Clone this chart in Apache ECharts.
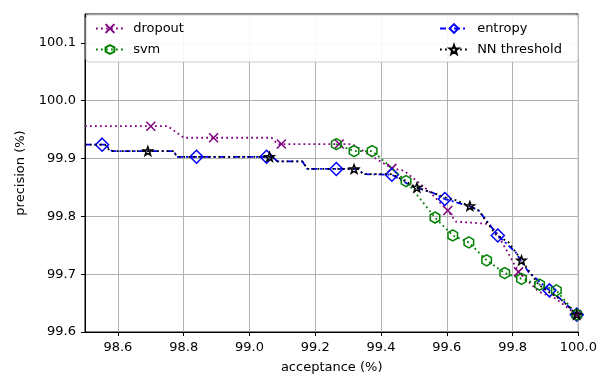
<!DOCTYPE html>
<html>
	<head>
		<meta charset="utf-8">
		<title></title>
		<script src="https://cdn.jsdelivr.net/npm/echarts@6/dist/echarts.min.js"></script>
	</head>
	<body style="margin:0;">
		<div id="main" style="width:600px;height:379px;"></div>
		<script type="text/javascript">
			// tick labels
			var xTicks = [98.6, 98.8, 99.0, 99.2, 99.4, 99.6, 99.8, 100.0];
			var yTicks = [99.6, 99.7, 99.8, 99.9, 100.0, 100.1];

			// dropout
			var dropoutX = [98.5, 98.70, 98.752, 98.80, 98.891, 99.067, 99.085, 99.097, 99.273, 99.312, 99.433, 99.470, 99.545, 99.603, 99.627, 99.727, 99.748, 99.788, 99.818, 99.879, 99.930, 99.995];
			var dropoutY = [99.956, 99.956, 99.956, 99.936, 99.936, 99.936, 99.925, 99.925, 99.925, 99.925, 99.883, 99.879, 99.844, 99.810, 99.791, 99.787, 99.775, 99.735, 99.704, 99.670, 99.658, 99.630];
			var dropoutMark = [1, 4, 7, 8, 10, 13, 18, 21];

			// svm
			var svmX = [99.264, 99.318, 99.373, 99.394, 99.476, 99.564, 99.618, 99.667, 99.721, 99.776, 99.827, 99.882, 99.933, 99.995];
			var svmY = [99.925, 99.913, 99.913, 99.903, 99.861, 99.798, 99.767, 99.755, 99.724, 99.702, 99.692, 99.682, 99.672, 99.630];
			var svmMark = [0, 1, 2, 4, 5, 6, 7, 8, 9, 10, 11, 12, 13];

			// entropy
			var entropyX = [98.5, 98.552, 98.561, 98.582, 98.770, 98.779, 98.839, 99.052, 99.070, 99.085, 99.161, 99.176, 99.264, 99.333, 99.345, 99.433, 99.494, 99.561, 99.594, 99.667, 99.697, 99.755, 99.809, 99.848, 99.912, 99.955, 99.995];
			var entropyY = [99.924, 99.924, 99.924, 99.913, 99.913, 99.903, 99.903, 99.903, 99.903, 99.895, 99.895, 99.882, 99.882, 99.882, 99.873, 99.872, 99.852, 99.840, 99.830, 99.818, 99.810, 99.767, 99.738, 99.704, 99.672, 99.653, 99.630];
			var entropyMark = [1, 6, 7, 12, 15, 18, 21, 24, 26];

			// NN threshold
			var nnX = [98.5, 98.561, 98.576, 98.691, 98.770, 98.779, 99.061, 99.070, 99.085, 99.161, 99.176, 99.318, 99.333, 99.345, 99.433, 99.509, 99.561, 99.594, 99.627, 99.670, 99.697, 99.748, 99.788, 99.827, 99.879, 99.918, 99.948, 99.995];
			var nnY = [99.924, 99.924, 99.913, 99.913, 99.913, 99.903, 99.903, 99.903, 99.895, 99.895, 99.882, 99.882, 99.882, 99.873, 99.873, 99.850, 99.840, 99.833, 99.828, 99.818, 99.810, 99.769, 99.755, 99.724, 99.682, 99.666, 99.656, 99.630];
			var nnMark = [3, 6, 11, 15, 19, 23, 27];

			var FONT = 'DejaVu Sans';
			var crossPath = 'path://M0,0L10,10M10,0L0,10';
			var hexPath = 'path://M5,0L9.33,2.5L9.33,7.5L5,10L0.67,7.5L0.67,2.5Z';
			var starPath = 'path://M5,0L6.18,3.38L9.76,3.45L6.9,5.62L7.94,9.05L5,7L2.06,9.05L3.1,5.62L0.24,3.45L3.82,3.38Z';

			function buildData(xs, ys, marks){
				var arr = [];
				for(var i = 0; i < xs.length; i++){
					var item = {value: [xs[i], ys[i]]};
					if(marks.indexOf(i) < 0){
						item.symbol = 'none';
					}
					arr.push(item);
				}
				return arr;
			}

			function makeSeries(name, xs, ys, marks, color, symbol, size, dash, z){
				return {
					name: name,
					type: 'line',
					z: z,
					data: buildData(xs, ys, marks),
					showSymbol: true,
					showAllSymbol: true,
					symbol: symbol,
					symbolSize: size,
					symbolKeepAspect: true,
					animation: false,
					lineStyle: {color: color, width: 1.8, type: dash},
					itemStyle: {color: 'rgba(255,255,255,0)', borderColor: color, borderWidth: 1.5}
				};
			}

			// legend text has a fixed 5px gap after the icon, so a space widens it
			function makeLegend(names, left){
				return {
					data: names,
					orient: 'vertical',
					align: 'left',
					left: left,
					top: 17,
					itemWidth: 28,
					itemHeight: 11,
					itemGap: 8,
					z: 10,
					formatter: function(name){ return ' ' + name; },
					textStyle: {fontFamily: FONT, fontSize: 13, color: '#000'}
				};
			}

			var myChart = echarts.init(document.getElementById('main'));
			var option = {
				animation: false,
				grid: {left: 85, right: 20, top: 14, bottom: 43, show: true, borderColor: '#000', borderWidth: 1, backgroundColor: 'transparent'},
				graphic: [{
					type: 'rect',
					z: 3,
					shape: {x: 86, y: 15, width: 492, height: 47, r: 3},
					style: {fill: 'rgba(255,255,255,0.9)', stroke: '#cccccc', lineWidth: 1}
				}],
				legend: [
					makeLegend(['dropout', 'svm'], 90),
					makeLegend(['entropy', 'NN threshold'], 434)
				],
				xAxis: {
					type: 'value',
					min: 98.5,
					max: 100.0,
					name: 'acceptance (%)',
					nameLocation: 'middle',
					nameGap: 29,
					nameTextStyle: {fontFamily: FONT, fontSize: 13, color: '#000'},
					axisLine: {onZero: false, lineStyle: {color: '#000'}},
					axisTick: {show: true, length: 4, lineStyle: {color: '#000'}, customValues: xTicks},
					axisLabel: {fontFamily: FONT, fontSize: 13, color: '#000', margin: 9, customValues: xTicks,
						formatter: function(v){ return v.toFixed(1); }},
					splitLine: {show: true, lineStyle: {color: '#b0b0b0', width: 1}}
				},
				yAxis: {
					type: 'value',
					min: 99.6,
					max: 100.15,
					name: 'precision (%)',
					nameLocation: 'middle',
					nameGap: 58,
					nameTextStyle: {fontFamily: FONT, fontSize: 13, color: '#000'},
					axisLine: {show: true, lineStyle: {color: '#000'}},
					axisTick: {show: true, length: 4, lineStyle: {color: '#000'}, customValues: yTicks},
					axisLabel: {fontFamily: FONT, fontSize: 13, color: '#000', margin: 9, customValues: yTicks,
						formatter: function(v){ return v.toFixed(1); }},
					splitLine: {show: true, lineStyle: {color: '#b0b0b0', width: 1}}
				},
				series: [
					makeSeries('dropout', dropoutX, dropoutY, dropoutMark, '#800080', crossPath, 9, [1.8, 3.2], 2),
					makeSeries('entropy', entropyX, entropyY, entropyMark, '#0000ff', 'diamond', 13, [6, 3, 2, 3], 3),
					makeSeries('svm', svmX, svmY, svmMark, '#008000', hexPath, 11, [1.8, 3.2], 4),
					makeSeries('NN threshold', nnX, nnY, nnMark, '#000000', starPath, 9, [1.8, 3.2], 5)
				]
			};
			myChart.setOption(option);
		</script>
	</body>
</html>
